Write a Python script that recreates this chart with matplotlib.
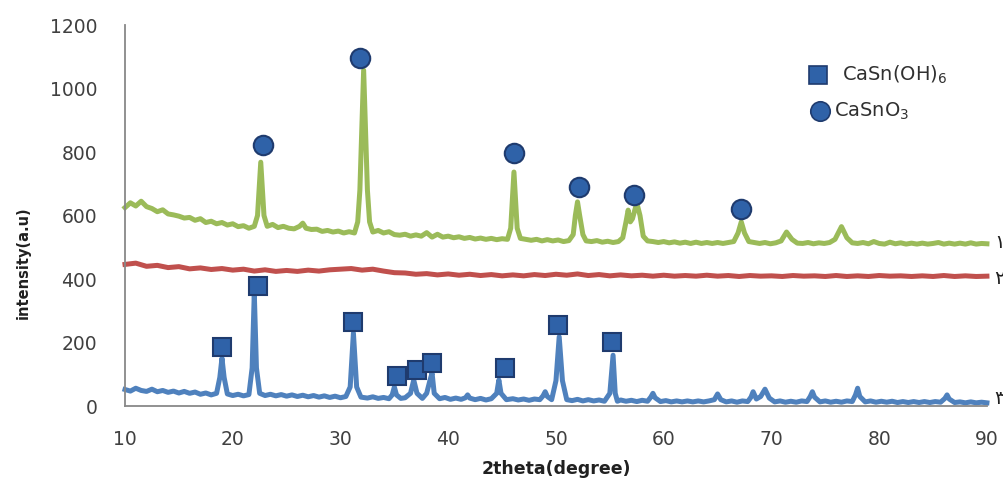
import matplotlib
matplotlib.use("Agg")
import matplotlib.pyplot as plt
import numpy as np

# ---- data (2theta in degrees, intensity in a.u.) ----
green_x = [10.0, 10.5, 11.0, 11.5, 12.0, 12.5, 13.0, 13.5, 14.0, 14.5, 15.0, 15.5, 16.0, 16.5,
           17.0, 17.5, 18.0, 18.5, 19.0, 19.5, 20.0, 20.5, 21.0, 21.5, 22.0, 22.3, 22.6, 22.9,
           23.2, 23.7, 24.2, 24.7, 25.2, 25.7, 26.2, 26.5, 26.8, 27.3, 27.8, 28.3, 28.8, 29.3,
           29.8, 30.3, 30.8, 31.3, 31.6, 31.8, 32.0, 32.15, 32.3, 32.5, 32.7, 33.0, 33.5, 34.0,
           34.5, 35.0, 35.5, 36.0, 36.5, 37.0, 37.5, 38.0, 38.5, 39.0, 39.5, 40.0, 40.5, 41.0,
           41.5, 42.0, 42.5, 43.0, 43.5, 44.0, 44.5, 45.0, 45.5, 45.8, 46.1, 46.4, 46.7, 47.2,
           47.7, 48.2, 48.7, 49.2, 49.7, 50.2, 50.7, 51.2, 51.6, 51.8, 52.0, 52.2, 52.5, 52.8,
           53.3, 53.8, 54.3, 54.8, 55.3, 55.8, 56.2, 56.5, 56.7, 56.9, 57.1, 57.5, 57.8, 58.1,
           58.5, 59.0, 59.5, 60.0, 60.5, 61.0, 61.5, 62.0, 62.5, 63.0, 63.5, 64.0, 64.5, 65.0,
           65.5, 66.0, 66.5, 66.9, 67.2, 67.5, 67.9, 68.4, 68.9, 69.4, 69.9, 70.4, 70.9, 71.4,
           71.9, 72.4, 72.9, 73.4, 73.9, 74.4, 74.9, 75.4, 75.9, 76.5, 77.0, 77.5, 78.0, 78.5,
           79.0, 79.5, 80.0, 80.5, 81.0, 81.5, 82.0, 82.5, 83.0, 83.5, 84.0, 84.5, 85.0, 85.5,
           86.0, 86.5, 87.0, 87.5, 88.0, 88.5, 89.0, 89.5, 90.0]
green_y = [625, 640, 630, 645, 628, 622, 612, 618, 605, 602, 598, 592, 594, 585,
           590, 578, 582, 574, 578, 570, 574, 565, 568, 560, 566, 600, 768, 600,
           566, 572, 562, 566, 560, 558, 566, 576, 560, 556, 557, 550, 553, 548,
           551, 545, 549, 545, 580, 680, 900, 1058, 900, 680, 580, 548, 553, 545,
           549, 540, 538, 541, 535, 539, 535, 546, 532, 541, 532, 535, 530, 533,
           528, 531, 526, 529, 525, 528, 524, 527, 525, 560, 737, 560, 528, 525,
           522, 525, 520, 524, 520, 523, 518, 521, 540, 600, 643, 600, 540, 520,
           518, 521, 516, 519, 515, 518, 530, 580, 617, 580, 590, 640, 600, 535,
           520, 518, 515, 518, 514, 517, 513, 516, 512, 516, 512, 515, 512, 515,
           512, 515, 518, 545, 580, 545, 518, 515, 512, 515, 511, 514, 520, 548,
           525, 513, 512, 515, 511, 514, 512, 515, 525, 565, 530, 514, 512, 515,
           511, 518, 512, 510, 516, 511, 514, 510, 513, 510, 513, 510, 512, 515,
           510, 513, 510, 513, 510, 514, 510, 512, 511]

red_x = [10, 11, 12, 13, 14, 15, 16, 17, 18, 19, 20, 21, 22, 23, 24, 25, 26, 27, 28, 29,
         30, 31, 32, 33, 34, 35, 36, 37, 38, 39, 40, 41, 42, 43, 44, 45, 46, 47, 48, 49,
         50, 51, 52, 53, 54, 55, 56, 57, 58, 59, 60, 61, 62, 63, 64, 65, 66, 67, 68, 69,
         70, 71, 72, 73, 74, 75, 76, 77, 78, 79, 80, 81, 82, 83, 84, 85, 86, 87, 88, 89, 90]
red_y = [446, 450, 440, 443, 436, 439, 432, 435, 430, 433, 428, 431, 425, 429, 424, 427,
         424, 428, 425, 429, 431, 433, 428, 431, 425, 420, 419, 415, 417, 413, 416, 412,
         415, 411, 414, 410, 413, 410, 414, 411, 415, 412, 416, 411, 414, 410, 413, 410,
         412, 409, 412, 409, 411, 409, 412, 409, 411, 408, 411, 409, 410, 408, 411, 409,
         410, 408, 411, 408, 410, 408, 411, 409, 410, 408, 410, 408, 411, 408, 410, 408, 409]

blue_x = [10.0, 10.5, 11.0, 11.5, 12.0, 12.5, 13.0, 13.5, 14.0, 14.5, 15.0, 15.5, 16.0, 16.5,
          17.0, 17.5, 18.0, 18.5, 18.8, 19.0, 19.2, 19.5, 20.0, 20.5, 21.0, 21.5, 21.8, 22.0,
          22.2, 22.5, 23.0, 23.5, 24.0, 24.5, 25.0, 25.5, 26.0, 26.5, 27.0, 27.5, 28.0, 28.5,
          29.0, 29.5, 30.0, 30.5, 30.9, 31.2, 31.5, 31.9, 32.5, 33.0, 33.5, 34.0, 34.5, 34.8,
          35.0, 35.2, 35.6, 36.0, 36.5, 36.8, 37.1, 37.6, 38.0, 38.3, 38.5, 38.7, 39.2, 39.7,
          40.2, 40.7, 41.2, 41.6, 41.8, 42.0, 42.5, 43.0, 43.5, 44.0, 44.5, 44.7, 44.9, 45.4,
          46.0, 46.5, 47.0, 47.5, 48.0, 48.5, 48.8, 49.0, 49.2, 49.6, 50.0, 50.3, 50.6, 51.0,
          51.5, 52.0, 52.5, 53.0, 53.5, 54.0, 54.5, 55.0, 55.3, 55.5, 55.7, 56.0, 56.5, 57.0,
          57.5, 58.0, 58.5, 58.8, 59.0, 59.2, 59.7, 60.2, 60.7, 61.2, 61.7, 62.2, 62.7, 63.2,
          63.7, 64.2, 64.7, 65.0, 65.3, 65.8, 66.3, 66.8, 67.3, 67.8, 68.1, 68.3, 68.6, 69.0,
          69.4, 69.8, 70.3, 70.8, 71.3, 71.8, 72.3, 72.8, 73.3, 73.6, 73.8, 74.0, 74.5, 75.0,
          75.5, 76.0, 76.5, 77.0, 77.5, 77.8, 78.0, 78.2, 78.7, 79.2, 79.7, 80.2, 80.7, 81.2,
          81.7, 82.2, 82.7, 83.2, 83.7, 84.2, 84.7, 85.2, 85.7, 86.1, 86.3, 86.5, 87.0, 87.5,
          88.0, 88.5, 89.0, 89.5, 90.0]
blue_y = [52, 47, 56, 49, 46, 53, 45, 49, 43, 47, 41, 46, 40, 44,
          37, 41, 35, 40, 90, 151, 90, 38, 33, 37, 32, 36, 120, 356,
          120, 40, 33, 37, 32, 36, 31, 35, 30, 34, 29, 33, 28, 32,
          27, 31, 26, 30, 60, 230, 60, 28, 25, 29, 24, 27, 23, 35,
          60, 35, 24, 26, 40, 82, 40, 24, 40, 80, 104, 40, 23, 27,
          21, 25, 21, 26, 35, 25, 20, 24, 19, 23, 40, 82, 40, 20,
          23, 19, 22, 18, 22, 20, 32, 45, 30, 20, 80, 218, 80, 20,
          17, 21, 16, 20, 16, 19, 15, 40, 160, 40, 15, 19, 15, 18,
          14, 18, 15, 28, 40, 26, 14, 17, 13, 16, 13, 16, 13, 16,
          13, 16, 20, 38, 20, 13, 16, 12, 16, 14, 28, 45, 22, 30,
          53, 25, 13, 16, 12, 15, 12, 16, 14, 30, 45, 28, 13, 16,
          12, 15, 12, 16, 14, 35, 56, 30, 13, 16, 12, 15, 12, 15,
          11, 14, 11, 14, 11, 14, 11, 14, 12, 24, 35, 22, 11, 13,
          10, 13, 10, 12, 10]

# phase markers
square_x = [19.0, 22.35, 31.2, 35.25, 37.1, 38.5, 45.3, 50.2, 55.2]
square_y = [186, 378, 264, 94, 113, 135, 120, 255, 202]
circle_x = [22.8, 31.8, 46.1, 52.1, 57.2, 67.2]
circle_y = [822, 1096, 797, 690, 665, 620]

line_colors = {"green": "#9BBB59", "red": "#C0504D", "blue": "#4F81BD"}
marker_fill = "#2F62A8"
marker_edge = "#1F3B6E"

fig = plt.figure(figsize=(10.04, 4.87), dpi=100)
ax = fig.add_axes([0.1245, 0.1663, 0.8585, 0.7823])

ax.plot(green_x, green_y, color=line_colors["green"], lw=3.6, solid_joinstyle="round", clip_on=False)
ax.plot(red_x, red_y, color=line_colors["red"], lw=3.6, solid_joinstyle="round", clip_on=False)
ax.plot(blue_x, blue_y, color=line_colors["blue"], lw=3.6, solid_joinstyle="round", clip_on=False)

ax.plot(square_x, square_y, ls="none", marker="s", ms=13, mfc=marker_fill,
        mec=marker_edge, mew=1.5, clip_on=False, zorder=5)
ax.plot(circle_x, circle_y, ls="none", marker="o", ms=14, mfc=marker_fill,
        mec=marker_edge, mew=1.5, clip_on=False, zorder=5)

ax.set_xlim(10, 90)
ax.set_ylim(0, 1200)
ax.set_xticks(np.arange(10, 91, 10))
ax.set_yticks(np.arange(0, 1201, 200))
ax.tick_params(axis="both", length=0, labelsize=13.5, colors="#404040")
ax.tick_params(axis="y", pad=20)
ax.tick_params(axis="x", pad=17)

for s in ["top", "right"]:
    ax.spines[s].set_visible(False)
ax.spines["left"].set_color("#888888")
ax.spines["bottom"].set_color("#888888")
ax.spines["left"].set_linewidth(1.3)
ax.spines["bottom"].set_linewidth(1.3)

fig.text(0.554, 0.018, "2theta(degree)", fontsize=12.5, fontweight="bold",
         ha="center", va="bottom", color="#202020")
fig.text(0.023, 1 - 263 / 487, "intensity(a.u)", fontsize=10.5, fontweight="bold",
         rotation=90, ha="center", va="center", color="#202020")

# legend drawn by hand
fig.lines.append(plt.Line2D([818 / 1004], [1 - 75 / 487], transform=fig.transFigure,
                            marker="s", ms=13, mfc=marker_fill, mec=marker_edge, mew=1.2, ls="none"))
fig.lines.append(plt.Line2D([820 / 1004], [1 - 111 / 487], transform=fig.transFigure,
                            marker="o", ms=14, mfc=marker_fill, mec=marker_edge, mew=1.2, ls="none"))
fig.text(842 / 1004, 1 - 75 / 487, r"CaSn(OH)$_6$", fontsize=14, va="center", ha="left", color="#303030")
fig.text(834 / 1004, 1 - 111 / 487, r"CaSnO$_3$", fontsize=14, va="center", ha="left", color="#303030")

# curve numbers at the right edge (cut by the image border)
for lab, ypx in [("\u0661", 243), ("\u0662", 278), ("\u0663", 398)]:
    fig.text(994 / 1004, 1 - ypx / 487, lab, fontsize=14, va="center", ha="left",
             family=["DejaVu Sans", "Noto Sans"], color="#202020")

fig.savefig("out.png", dpi=100)
